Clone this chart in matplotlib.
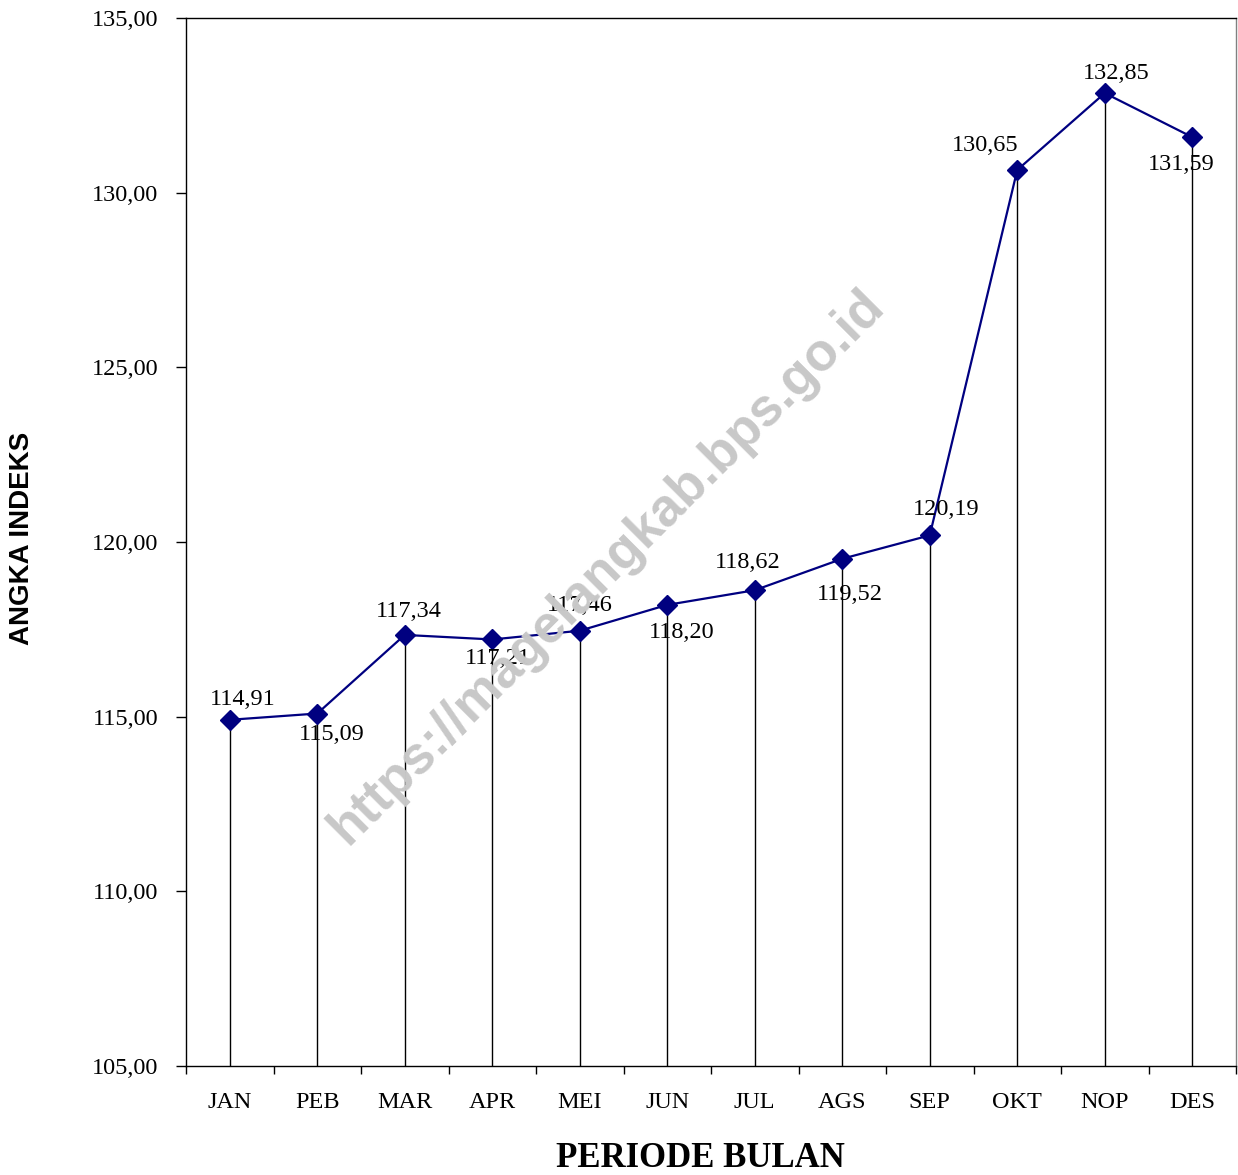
import numpy as np
import matplotlib
matplotlib.use("Agg")
import matplotlib.pyplot as plt

# data
bulan = ["JAN", "PEB", "MAR", "APR", "MEI", "JUN", "JUL", "AGS", "SEP", "OKT", "NOP", "DES"]
indeks = [114.91, 115.09, 117.34, 117.21, 117.46, 118.20, 118.62, 119.52, 120.19, 130.65, 132.85, 131.59]
label_teks = ["114,91", "115,09", "117,34", "117,21", "117,46", "118,20",
              "118,62", "119,52", "120,19", "130,65", "132,85", "131,59"]
y_ticks = [105, 110, 115, 120, 125, 130, 135]

# label offsets (pixels) for each point
offs = [(13, 20), (14, -21), (4, 23), (6, -19), (0, 25), (14, -28),
        (-7, 28), (8, -36), (16, 26), (-32, 24), (11, 20), (-11, -27)]

serif = "Liberation Serif"
fs = 17.5

fig = plt.figure(figsize=(12.38, 11.75), dpi=100)
ax = fig.add_axes([186 / 1238, 1 - 1066 / 1175, 1050 / 1238, 1048 / 1175])

x = np.arange(len(bulan))
ax.vlines(x, 105, indeks, colors="black", lw=1.0, zorder=2)
ax.plot(x, indeks, color="#000080", lw=1.6, marker="D", ms=10, zorder=3)

for i in range(len(x)):
    ax.annotate(label_teks[i], (x[i], indeks[i]), xytext=offs[i], textcoords="offset pixels",
                ha="center", va="center", fontsize=fs, family=serif, zorder=4)

ax.set_xlim(-0.5, len(bulan) - 0.5)
ax.set_ylim(105, 135)
ax.set_yticks(y_ticks)
ax.set_yticklabels([("%.2f" % v).replace(".", ",") for v in y_ticks], fontsize=fs, family=serif)
ax.tick_params(axis="y", direction="out", length=7, width=1, pad=13)

ax.set_xticks(np.arange(-0.5, len(bulan), 1))
ax.set_xticklabels([])
ax.tick_params(axis="x", which="major", direction="out", length=6, width=1)
ax.set_xticks(x, minor=True)
ax.set_xticklabels(bulan, minor=True, fontsize=fs, family=serif)
ax.tick_params(axis="x", which="minor", length=0, pad=19)

for s in ax.spines.values():
    s.set_linewidth(1)
ax.spines["right"].set_color("#808080")

fig.text(700 / 1238, 1 - 1167 / 1175, "PERIODE BULAN", ha="center", va="baseline",
         fontsize=25, fontweight="bold", family=serif)
fig.text(22 / 1238, 1 - 538 / 1175, "ANGKA INDEKS", ha="center", va="center",
         rotation=90, fontsize=20, fontweight="bold", family="Liberation Sans")

fig.text(607 / 1238, 1 - 567 / 1175, "https://magelangkab.bps.go.id", ha="center", va="center",
         rotation=45, fontsize=38, fontweight="bold", family="Liberation Sans",
         color="#c8c8c8", zorder=10)

fig.savefig("out.png", dpi=100)
